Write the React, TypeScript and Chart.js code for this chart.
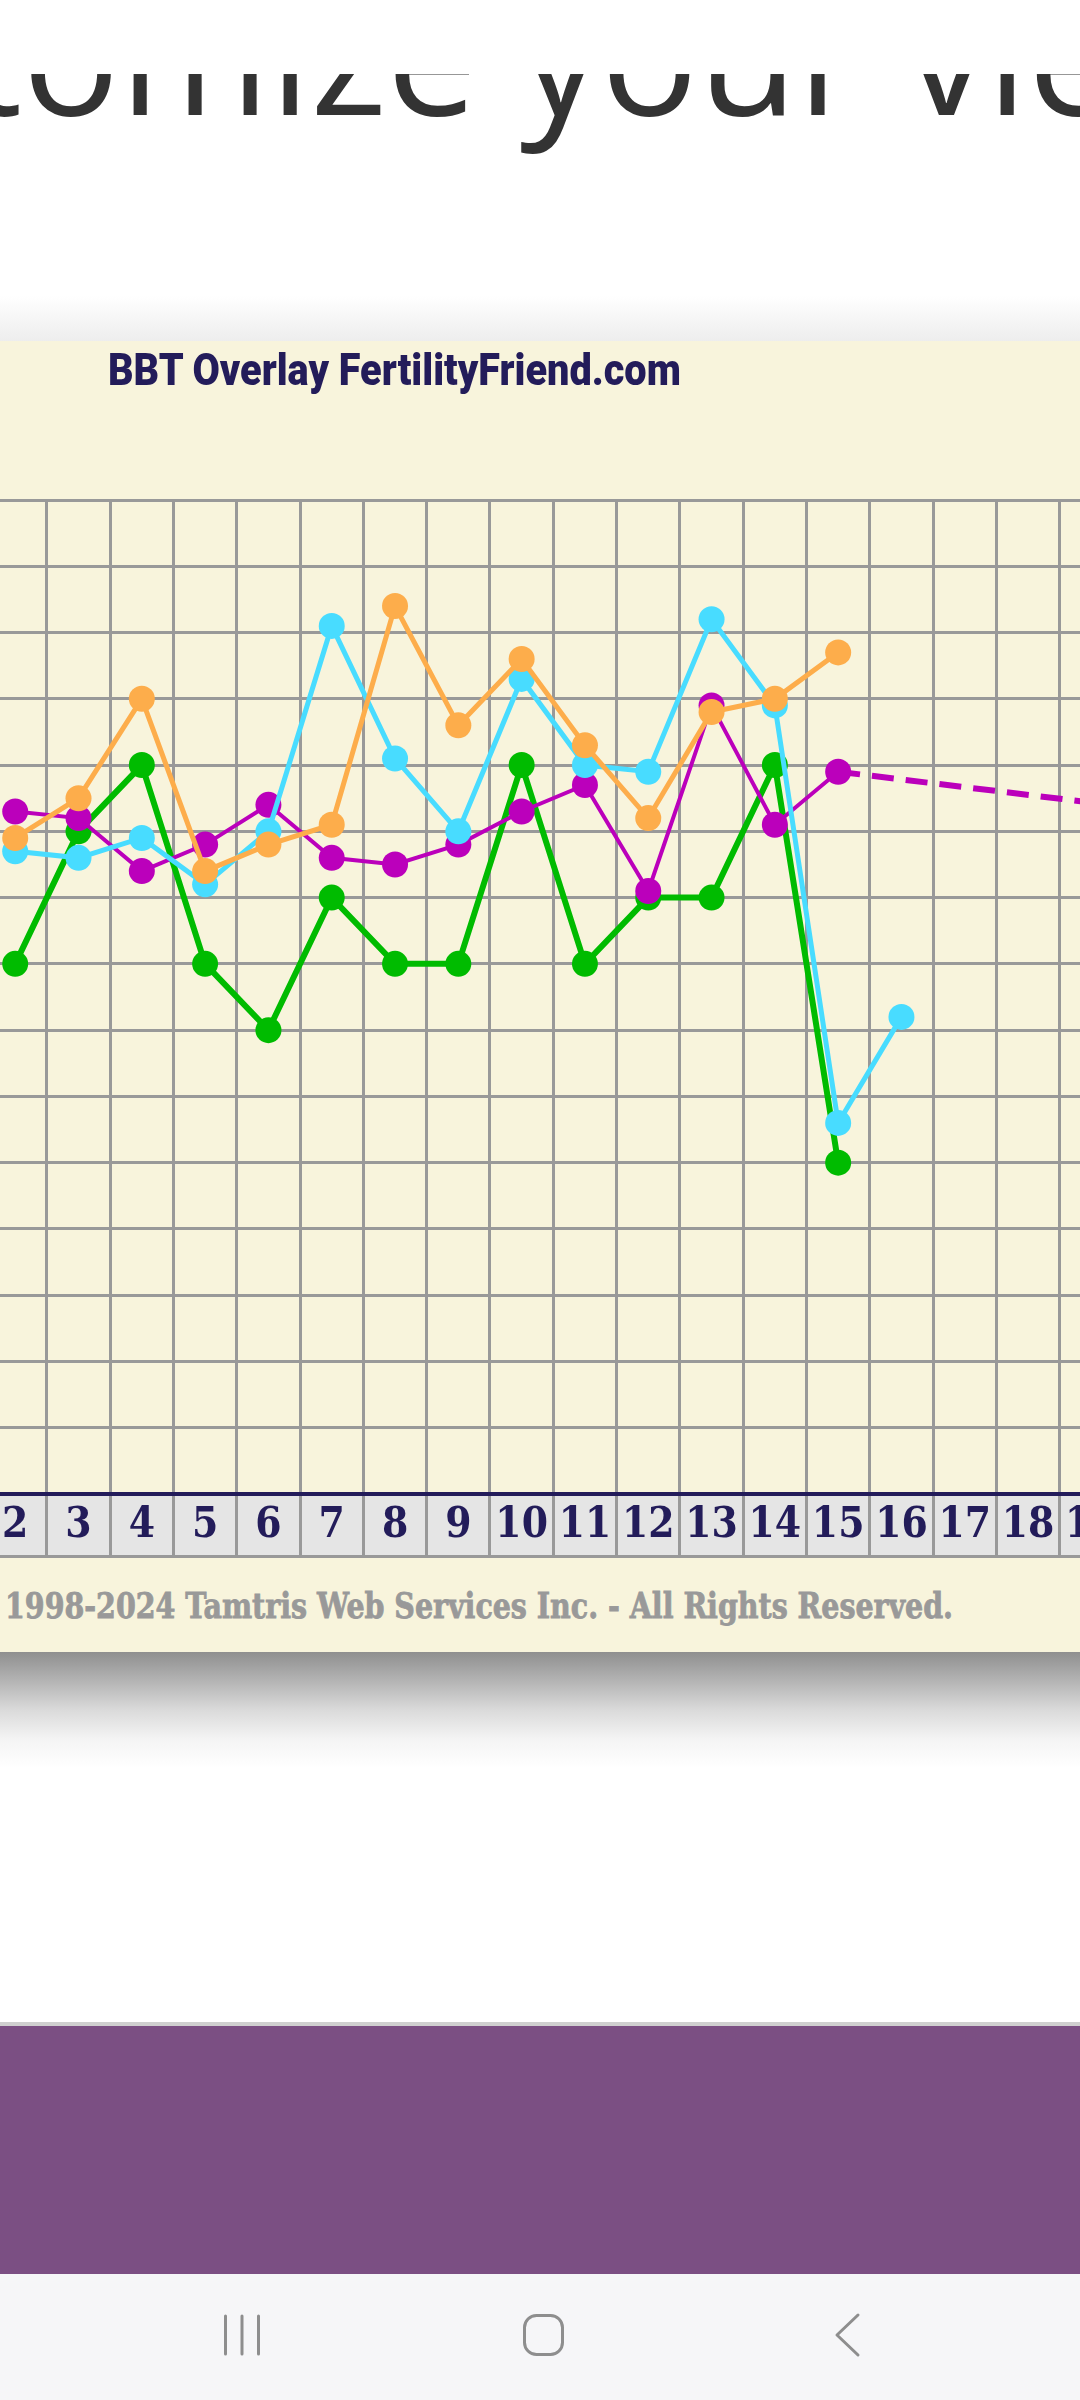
import React, { useEffect, useLayoutEffect, useRef } from "react";
import { Chart, registerables } from "chart.js";

Chart.register(...registerables);

// ---- text ----
const HEADING = "Customize your view";
const TITLE = "BBT Overlay FertilityFriend.com";
const COPYRIGHT = "1998-2024 Tamtris Web Services Inc. - All Rights Reserved.";

// ---- data (cycle day -> temperature, °F) ----
const GREEN_DAYS = [2, 3, 4, 5, 6, 7, 8, 9, 10, 11, 12, 13, 14, 15];
const GREEN_TEMPS = [97.9, 98.1, 98.2, 97.9, 97.8, 98.0, 97.9, 97.9, 98.2, 97.9, 98.0, 98.0, 98.2, 97.6];

const CYAN_DAYS = [2, 3, 4, 5, 6, 7, 8, 9, 10, 11, 12, 13, 14, 15, 16];
const CYAN_TEMPS = [98.07, 98.06, 98.09, 98.02, 98.1, 98.41, 98.21, 98.1, 98.33, 98.2, 98.19, 98.42, 98.29, 97.66, 97.82];

const ORANGE_DAYS = [2, 3, 4, 5, 6, 7, 8, 9, 10, 11, 12, 13, 14, 15];
const ORANGE_TEMPS = [98.09, 98.15, 98.3, 98.04, 98.08, 98.11, 98.44, 98.26, 98.36, 98.23, 98.12, 98.28, 98.3, 98.37];

const PURPLE_DAYS = [2, 3, 4, 5, 6, 7, 8, 9, 10, 11, 12, 13, 14, 15];
const PURPLE_TEMPS = [98.13, 98.12, 98.04, 98.08, 98.14, 98.06, 98.05, 98.08, 98.13, 98.17, 98.01, 98.29, 98.11, 98.19];

const PURPLE_PROJ_DAYS = [15, 21];
const PURPLE_PROJ_TEMPS = [98.19, 98.12];

// axis ranges
const TEMP_MIN = 97.1;
const TEMP_MAX = 98.6;
const TEMP_STEP = 0.1;
const DAY_MIN = 0.18;
const DAY_MAX = 20.4;

const GREEN = "#00bb00";
const CYAN = "#48dcff";
const ORANGE = "#fdad4b";
const PURPLE = "#bb00bb";
const NAVY = "#231c5a";
const GRID = "#999999";
const CREAM = "#f8f4dc";

function series(days: number[], temps: number[], color: string, width: number) {
  return {
    data: days.map((d, i) => ({ x: d, y: temps[i] })),
    borderColor: color,
    backgroundColor: color,
    borderWidth: width,
    pointRadius: 13,
    pointHoverRadius: 13,
    pointBackgroundColor: color,
    pointBorderColor: color,
    pointBorderWidth: 0,
    tension: 0,
    fill: false,
  };
}

function FitText({ text, width, style }: { text: string; width: number; style: any }) {
  const ref = useRef<HTMLSpanElement>(null);
  useLayoutEffect(() => {
    const el = ref.current;
    if (!el) return;
    const fit = () => {
      el.style.transform = "none";
      const w = el.offsetWidth;
      if (w > 0) el.style.transform = `scaleX(${width / w})`;
    };
    fit();
    const f = (document as any).fonts;
    if (f && f.ready) f.ready.then(fit);
  }, [text, width]);
  return (
    <span
      ref={ref}
      style={{ display: "inline-block", whiteSpace: "nowrap", transformOrigin: "0 0", ...style }}
    >
      {text}
    </span>
  );
}

const CANVAS_LEFT = -100;
const CANVAS_TOP = 341;
const CANVAS_W = 1280;
const CANVAS_H = 1216;

export default function App() {
  const canvasRef = useRef<HTMLCanvasElement>(null);

  useEffect(() => {
    const canvas = canvasRef.current;
    if (!canvas) return;
    const projection = {
      ...series(PURPLE_PROJ_DAYS, PURPLE_PROJ_TEMPS, PURPLE, 6),
      pointRadius: 0,
      pointHoverRadius: 0,
      borderDash: [22, 12],
    };
    const chart = new Chart(canvas, {
      type: "line",
      data: {
        datasets: [
          series(ORANGE_DAYS, ORANGE_TEMPS, ORANGE, 5),
          series(CYAN_DAYS, CYAN_TEMPS, CYAN, 5),
          series(PURPLE_DAYS, PURPLE_TEMPS, PURPLE, 4),
          series(GREEN_DAYS, GREEN_TEMPS, GREEN, 6),
          projection,
        ] as any,
      },
      options: {
        animation: false,
        responsive: false,
        devicePixelRatio: 1,
        events: [],
        layout: { autoPadding: false, padding: { top: 159, left: 0, right: 0, bottom: 0 } },
        plugins: { legend: { display: false }, tooltip: { enabled: false }, title: { display: false } },
        scales: {
          x: {
            type: "linear",
            min: DAY_MIN,
            max: DAY_MAX,
            backgroundColor: "#e5e5e5",
            afterFit: (scale: any) => {
              scale.height = 63;
            },
            grid: {
              offset: true,
              color: GRID,
              lineWidth: 3,
              drawTicks: true,
              tickLength: 63,
              tickColor: GRID,
              tickWidth: 3,
            },
            border: { display: true, color: NAVY, width: 4 },
            ticks: {
              stepSize: 1,
              includeBounds: false,
              autoSkip: false,
              maxRotation: 0,
              minRotation: 0,
              padding: -52,
              color: NAVY,
              font: {
                family: "'DejaVu Serif Condensed', 'DejaVu Serif', serif",
                weight: "bold",
                size: 42,
                lineHeight: 1,
              },
            },
          },
          y: {
            type: "linear",
            min: TEMP_MIN,
            max: TEMP_MAX,
            grid: { color: GRID, lineWidth: 3, drawTicks: false },
            border: { display: false },
            ticks: { display: false, stepSize: TEMP_STEP },
          },
        },
      } as any,
    });
    return () => chart.destroy();
  }, []);

  return (
    <div
      style={{
        position: "absolute",
        left: 0,
        top: 0,
        width: 1080,
        height: 2400,
        overflow: "hidden",
        background: "#ffffff",
      }}
    >
      {/* big page heading, partly scrolled out of view */}
      <div
        style={{
          position: "absolute",
          left: -314,
          top: -29,
          fontFamily: "'Open Sans', sans-serif",
          fontWeight: 400,
          fontSize: 162,
          lineHeight: "162px",
          color: "#333333",
          whiteSpace: "nowrap",
        }}
      >
        {HEADING}
      </div>
      <div style={{ position: "absolute", left: 0, top: 0, width: 1080, height: 74, background: "#ffffff" }} />

      {/* soft shadow above the panel */}
      <div
        style={{
          position: "absolute",
          left: 0,
          top: 296,
          width: 1080,
          height: 45,
          background: "linear-gradient(to bottom, rgba(255,255,255,0), rgba(230,230,230,0.7))",
        }}
      />

      {/* cream chart panel */}
      <div style={{ position: "absolute", left: 0, top: 341, width: 1080, height: 1311, background: CREAM }} />

      <div
        style={{
          position: "absolute",
          left: 108,
          top: 347,
          fontFamily: "Roboto, 'Noto Sans', sans-serif",
          fontWeight: 900,
          fontSize: 45,
          lineHeight: "45px",
          color: NAVY,
          zIndex: 2,
        }}
      >
        <FitText text={TITLE} width={573} style={{}} />
      </div>

      <canvas
        ref={canvasRef}
        width={CANVAS_W}
        height={CANVAS_H}
        style={{
          position: "absolute",
          left: CANVAS_LEFT,
          top: CANVAS_TOP,
          width: CANVAS_W,
          height: CANVAS_H,
          zIndex: 1,
        }}
      />

      {/* bottom border of the day strip */}
      <div style={{ position: "absolute", left: 0, top: 1555, width: 1080, height: 3, background: GRID, zIndex: 2 }} />

      <div
        style={{
          position: "absolute",
          left: 5,
          top: 1587,
          fontFamily: "'DejaVu Serif Condensed', 'DejaVu Serif', serif",
          fontWeight: 700,
          fontSize: 36,
          lineHeight: "36px",
          color: "#999999",
          zIndex: 2,
        }}
      >
        <FitText text={COPYRIGHT} width={948} style={{ WebkitTextStroke: "0.8px #999999" }} />
      </div>

      {/* shadow under the panel */}
      <div
        style={{
          position: "absolute",
          left: 0,
          top: 1652,
          width: 1080,
          height: 116,
          background: "linear-gradient(to bottom, #8f8f8f 0%, #b4b4b4 25%, #dadada 50%, #f4f4f4 75%, #ffffff 100%)",
        }}
      />

      {/* purple band */}
      <div style={{ position: "absolute", left: 0, top: 2022, width: 1080, height: 4, background: "#cfcfcf" }} />
      <div style={{ position: "absolute", left: 0, top: 2026, width: 1080, height: 248, background: "#7b4f83" }} />

      {/* navigation bar */}
      <div style={{ position: "absolute", left: 0, top: 2274, width: 1080, height: 126, background: "#f6f6f8" }}>
        <svg width={1080} height={126} style={{ position: "absolute", left: 0, top: 0 }}>
          <g stroke="#8e8e8e" strokeWidth={3} strokeLinecap="round" fill="none">
            <line x1={225.5} y1={42} x2={225.5} y2={80} />
            <line x1={242} y1={42} x2={242} y2={80} />
            <line x1={258.5} y1={42} x2={258.5} y2={80} />
            <rect x={524.5} y={41.5} width={38} height={39} rx={12} ry={12} />
            <polyline points="858,41 837,61 858,81" strokeLinejoin="round" />
          </g>
        </svg>
      </div>
    </div>
  );
}
